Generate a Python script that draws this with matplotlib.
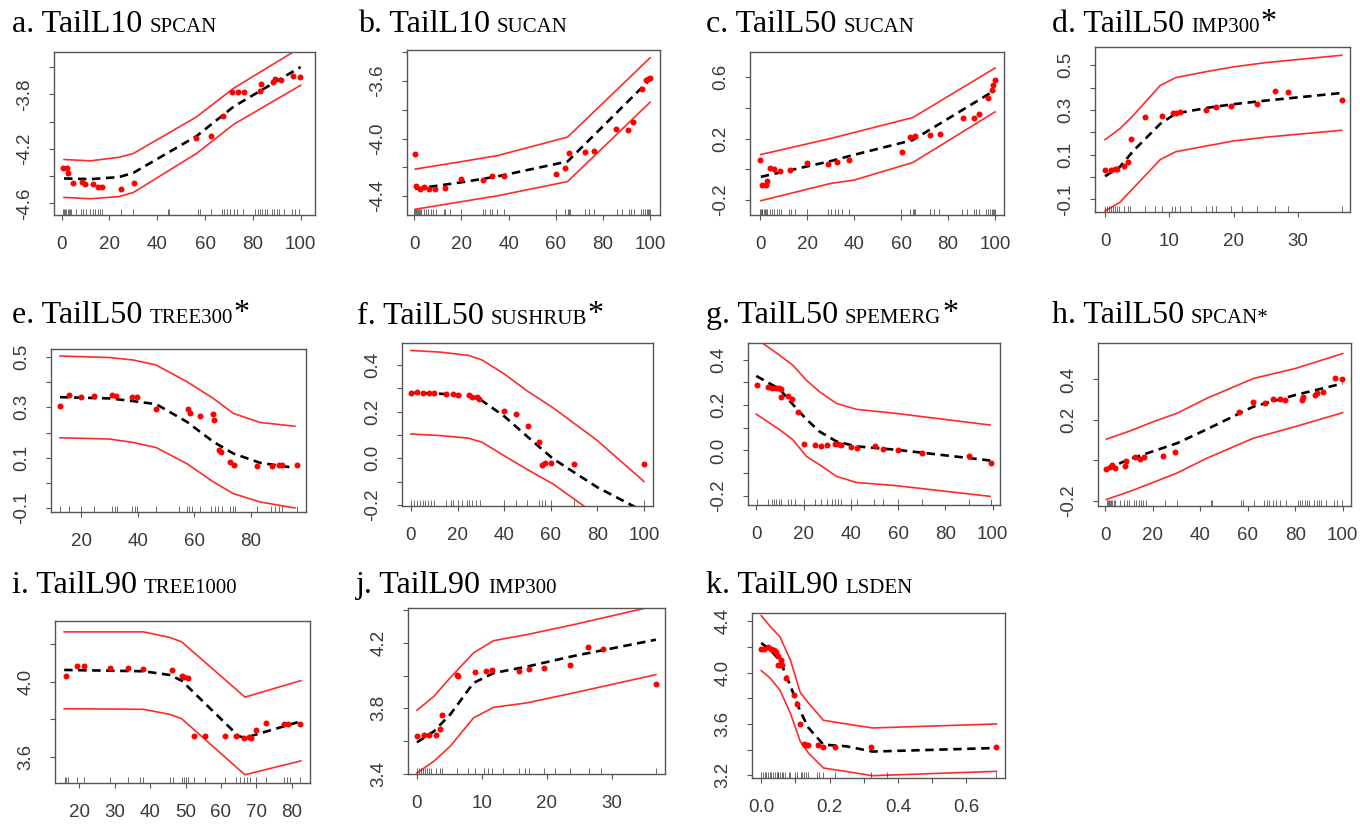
import numpy as np
import matplotlib.pyplot as plt

plt.rcParams['font.family'] = ['Liberation Sans', 'DejaVu Sans']

W, H = 1360, 830

# ---- a. TailL10 SPCAN ----
a_px = [0.7, 2.4, 2.8, 4.6, 8.4, 9.7, 13.2, 15.0, 16.7, 24.8, 30.1, 56.4, 62.4, 67.5, 71.3, 73.8, 76.2, 83.0, 83.6, 88.3, 89.3, 91.6, 96.8, 99.7]
a_py = [-4.344, -4.337, -4.376, -4.451, -4.446, -4.456, -4.461, -4.478, -4.478, -4.498, -4.451, -4.117, -4.107, -3.961, -3.783, -3.783, -3.783, -3.776, -3.724, -3.710, -3.685, -3.693, -3.663, -3.673]
a_kx = [1, 12, 24, 30, 56.4, 72, 100]
a_up = [-4.278, -4.288, -4.262, -4.234, -3.966, -3.755, -3.457]
a_lo = [-4.556, -4.566, -4.55, -4.52, -4.234, -4.02, -3.734]
a_fit = [-4.417, -4.422, -4.407, -4.376, -4.107, -3.89, -3.6]
a_rug = [0.5, 1, 1.5, 2, 2.5, 3, 3.5, 4, 6, 8, 9, 10, 12, 13, 14, 15, 16, 17, 25, 30, 44.5, 45, 57, 58, 62.5,
         67, 68, 69, 70.5, 72, 73.5, 76, 81, 82, 83, 84, 85, 86, 88, 89, 90, 91, 93, 96.5, 97.5, 99.5]

# ---- b. TailL10 SUCAN ----
b_px = [0.4, 0.8, 2.5, 4.2, 6.1, 8.9, 13.0, 20.0, 29.1, 32.9, 37.9, 60.2, 64.0, 65.5, 72.5, 76.4, 85.7, 90.8, 92.9, 96.5, 98.2, 99.3, 100.0]
b_py = [-4.108, -4.328, -4.353, -4.339, -4.351, -4.351, -4.346, -4.283, -4.290, -4.260, -4.260, -4.246, -4.202, -4.101, -4.092, -4.085, -3.934, -3.938, -3.885, -3.658, -3.595, -3.584, -3.579]
b_kx = [0.4, 20, 35, 65, 100]
b_up = [-4.213, -4.161, -4.12, -3.99, -3.437]
b_lo = [-4.493, -4.44, -4.40, -4.30, -3.747]
b_fit = [-4.351, -4.305, -4.265, -4.16, -3.588]
b_rug = [0, 0.3, 0.6, 1, 1.5, 2, 2.5, 3, 4, 5, 6, 7, 8, 9, 12.5, 13, 15, 20, 29, 30, 32, 33, 35, 38, 60, 64, 65,
         65.5, 66, 72.5, 74, 76, 86, 88, 91, 92, 93, 96, 97, 98, 98.5, 99, 99.5, 100]

# ---- c. TailL50 SUCAN ----
c_px = [0.0, 0.6, 2.3, 3.1, 4.0, 6.1, 8.5, 12.8, 19.9, 29.1, 32.9, 38.0, 60.3, 63.8, 66.0, 72.3, 76.5, 86.2, 90.9, 93.2, 96.9, 98.6, 99.3, 100.0]
c_py = [0.059, -0.103, -0.103, -0.077, 0.011, 0.000, -0.010, -0.005, 0.038, 0.034, 0.049, 0.059, 0.114, 0.211, 0.215, 0.222, 0.228, 0.334, 0.334, 0.362, 0.466, 0.518, 0.546, 0.578]
c_kx = [0.3, 30, 40, 65, 100]
c_up = [0.096, 0.2, 0.239, 0.336, 0.658]
c_lo = [-0.204, -0.092, -0.07, 0.044, 0.373]
c_fit = [-0.049, 0.053, 0.094, 0.19, 0.514]
c_rug = b_rug

# ---- d. TailL50 IMP300 ----
d_px = [0.0, 1.0, 1.6, 1.8, 2.9, 3.5, 4.0, 6.2, 8.9, 10.6, 11.0, 11.6, 15.7, 17.2, 19.6, 23.6, 26.4, 28.4, 36.8]
d_py = [0.030, 0.033, 0.034, 0.037, 0.049, 0.067, 0.169, 0.269, 0.275, 0.285, 0.287, 0.290, 0.301, 0.312, 0.316, 0.325, 0.384, 0.381, 0.343]
d_kx = [0, 2.3, 4.4, 8.6, 11, 16, 20, 25, 36.8]
d_up = [0.167, 0.216, 0.276, 0.41, 0.445, 0.473, 0.493, 0.512, 0.545]
d_lo = [-0.152, -0.114, -0.05, 0.078, 0.113, 0.14, 0.161, 0.178, 0.209]
d_fit = [0.003, 0.045, 0.117, 0.238, 0.284, 0.31, 0.326, 0.342, 0.376]
d_rug = [0, 0.3, 0.6, 1, 1.3, 1.6, 1.8, 2.2, 2.9, 3.5, 3.9, 6.2, 7.8, 8.9, 10.4, 10.9, 11.6, 13.3, 15.7, 16.6,
         17.2, 19.6, 21.3, 23.6, 26.5, 28.4, 36.8]

# ---- e. TailL50 TREE300 ----
e_px = [12.6, 15.9, 20.0, 24.7, 31.0, 32.4, 38.1, 39.8, 46.4, 57.6, 58.5, 62.1, 66.5, 67.0, 68.6, 69.3, 72.4, 74.1, 82.0, 87.3, 90.0, 91.0, 96.1]
e_py = [0.307, 0.349, 0.341, 0.344, 0.348, 0.345, 0.341, 0.340, 0.293, 0.292, 0.276, 0.267, 0.272, 0.248, 0.129, 0.123, 0.084, 0.071, 0.065, 0.065, 0.071, 0.071, 0.072]
e_kx = [12.6, 30, 38.5, 46.5, 57.3, 66.7, 73.8, 83.2, 95.5]
e_up = [0.505, 0.499, 0.489, 0.469, 0.403, 0.336, 0.276, 0.24, 0.225]
e_lo = [0.179, 0.174, 0.16, 0.14, 0.076, 0.003, -0.044, -0.077, -0.101]
e_fit = [0.341, 0.336, 0.325, 0.313, 0.243, 0.163, 0.116, 0.079, 0.059]
e_rug = [12.6, 15.9, 20, 24.7, 31, 32, 32.6, 37.9, 39, 39.9, 46.4, 54.6, 57.3, 58, 59, 62, 66, 67.3, 68.5, 69.6,
         72.6, 73.5, 74.4, 82, 87, 88.5, 90, 90.8, 96.1]

# ---- f. TailL50 SUSHRUB ----
f_px = [0.0, 2.6, 5.1, 7.6, 10.1, 15.1, 18.0, 20.4, 25.1, 26.1, 28.5, 29.4, 40.1, 45.1, 50.1, 55.1, 56.3, 57.5, 60.0, 70.0, 100.0]
f_py = [0.279, 0.283, 0.279, 0.279, 0.279, 0.273, 0.273, 0.269, 0.269, 0.261, 0.264, 0.254, 0.201, 0.190, 0.137, 0.069, -0.029, -0.021, -0.021, -0.024, -0.024]
f_kx = [0, 12.6, 24.7, 30.4, 40, 49.6, 61, 80, 100]
f_up = [0.461, 0.454, 0.44, 0.421, 0.361, 0.29, 0.216, 0.076, -0.099]
f_lo = [0.104, 0.097, 0.086, 0.069, 0.011, -0.046, -0.11, -0.245, -0.39]
f_fit = [0.28, 0.276, 0.267, 0.247, 0.18, 0.096, -0.002, -0.124, -0.228]
f_rug = [0, 1.2, 2.5, 3.7, 5, 6.2, 7.5, 8.7, 10, 15, 17, 18, 20, 22, 24, 25, 26, 28, 29.7, 40, 45, 50, 55, 56.3,
         57.5, 60, 70, 100]

# ---- g. TailL50 SPEMERG ----
g_px = [0.3, 4.9, 6.8, 8.5, 9.5, 10.3, 10.3, 13.4, 15.3, 17.7, 20.1, 25.0, 27.5, 29.9, 33.2, 34.6, 36.0, 40.0, 42.4, 50.1, 53.4, 60.0, 70.2, 89.8, 99.2]
g_py = [0.286, 0.278, 0.277, 0.274, 0.277, 0.271, 0.237, 0.240, 0.225, 0.168, 0.029, 0.022, 0.020, 0.022, 0.028, 0.029, 0.025, 0.015, 0.013, 0.018, 0.007, 0.003, -0.012, -0.023, -0.053]
g_kx = [0, 9.9, 15.5, 21.2, 26.8, 33.9, 42.4, 59.3, 98.9]
g_up = [0.492, 0.419, 0.375, 0.309, 0.258, 0.207, 0.181, 0.163, 0.112]
g_lo = [0.16, 0.091, 0.047, -0.026, -0.063, -0.114, -0.141, -0.155, -0.202]
g_fit = [0.328, 0.27, 0.202, 0.137, 0.083, 0.04, 0.018, 0.003, -0.044]
g_rug = [0.3, 4.9, 6.5, 7.5, 8.5, 9.5, 10.6, 13.4, 14.5, 16.2, 20, 25, 27.5, 29.9, 32, 33.5, 34.6, 36, 40, 42.4,
         50, 53.4, 60, 70, 90, 99.2]

# ---- h. TailL50 SPCAN ----
h_px = [0.4, 2.1, 2.8, 4.2, 8.1, 8.8, 12.6, 14.7, 16.4, 24.3, 29.5, 56.1, 62.4, 67.3, 70.8, 73.4, 75.7, 82.7, 83.2, 88.4, 89.1, 91.6, 96.8, 99.6]
h_py = [-0.043, -0.030, -0.021, -0.038, -0.026, -0.005, 0.015, 0.008, 0.016, 0.021, 0.044, 0.238, 0.290, 0.285, 0.303, 0.302, 0.298, 0.298, 0.311, 0.323, 0.334, 0.336, 0.408, 0.400]
h_kx = [0.4, 10.5, 20.3, 30.2, 42.8, 62.4, 80, 100]
h_up = [0.105, 0.146, 0.192, 0.233, 0.307, 0.405, 0.454, 0.528]
h_lo = [-0.193, -0.152, -0.108, -0.062, 0.011, 0.11, 0.167, 0.236]
h_fit = [-0.043, 0.008, 0.046, 0.085, 0.154, 0.266, 0.323, 0.38]
h_rug = a_rug

# ---- i. TailL90 TREE1000 ----
i_px = [16.1, 19.2, 21.3, 28.6, 33.6, 37.9, 46.1, 48.9, 49.5, 50.8, 52.4, 55.5, 61.3, 64.4, 66.6, 67.9, 68.4, 70.0, 72.7, 77.8, 79.0, 82.3]
i_py = [4.028, 4.085, 4.085, 4.072, 4.072, 4.067, 4.063, 4.032, 4.026, 4.018, 3.709, 3.709, 3.709, 3.711, 3.697, 3.702, 3.697, 3.741, 3.780, 3.776, 3.776, 3.776]
i_kx = [15.7, 38.1, 45.6, 48.9, 65.0, 66.8, 82.6]
i_up = [4.265, 4.265, 4.235, 4.212, 3.947, 3.917, 4.005]
i_lo = [3.855, 3.852, 3.825, 3.802, 3.533, 3.503, 3.577]
i_fit = [4.062, 4.055, 4.035, 4.005, 3.709, 3.700, 3.788]
i_rug = [15.8, 16.3, 16.9, 19.2, 21.3, 28.7, 33.6, 37.1, 38.1, 45.6, 46.6, 48.9, 49.5, 50, 50.8, 52.4, 55.5,
         61.3, 64.4, 65.5, 66.6, 67.3, 68.2, 70, 72.7, 77.8, 78.8, 79.5, 82.3]

# ---- j. TailL90 IMP300 ----
j_px = [0.0, 1.1, 1.8, 2.9, 3.6, 3.9, 6.2, 6.3, 9.0, 10.6, 11.6, 15.7, 17.3, 19.6, 23.5, 26.3, 28.6, 36.8]
j_py = [3.629, 3.635, 3.635, 3.635, 3.676, 3.757, 4.006, 4.000, 4.020, 4.027, 4.033, 4.031, 4.041, 4.047, 4.063, 4.173, 4.163, 3.951]
j_kx = [0, 2.6, 5.1, 8.7, 11.8, 16.9, 24.1, 36.8]
j_up = [3.788, 3.873, 3.986, 4.139, 4.214, 4.251, 4.312, 4.428]
j_lo = [3.404, 3.476, 3.567, 3.741, 3.806, 3.833, 3.894, 4.006]
j_fit = [3.592, 3.659, 3.761, 3.955, 4.016, 4.055, 4.12, 4.22]
j_rug = d_rug

# ---- k. TailL90 LSDEN ----
k_px = [0.0, 0.007, 0.019, 0.028, 0.036, 0.044, 0.048, 0.049, 0.055, 0.058, 0.060, 0.073, 0.097, 0.104, 0.114, 0.124, 0.131, 0.138, 0.167, 0.182, 0.216, 0.321, 0.688]
k_py = [4.184, 4.184, 4.197, 4.184, 4.174, 4.158, 4.127, 4.062, 4.062, 4.101, 4.062, 3.958, 3.823, 3.758, 3.603, 3.444, 3.439, 3.439, 3.434, 3.421, 3.421, 3.421, 3.418]
k_kx = [0, 0.026, 0.055, 0.085, 0.114, 0.138, 0.182, 0.25, 0.325, 0.688]
k_up = [4.444, 4.361, 4.278, 4.101, 3.847, 3.764, 3.629, 3.60, 3.569, 3.60]
k_lo = [4.016, 3.958, 3.862, 3.686, 3.465, 3.374, 3.257, 3.229, 3.197, 3.231]
k_fit = [4.231, 4.179, 4.093, 3.898, 3.70, 3.571, 3.439, 3.426, 3.385, 3.413]
k_rug = [0, 0.005, 0.01, 0.015, 0.02, 0.025, 0.03, 0.035, 0.04, 0.045, 0.048, 0.05, 0.055, 0.06, 0.065, 0.07,
         0.08, 0.085, 0.1, 0.105, 0.115, 0.12, 0.125, 0.13, 0.138, 0.163, 0.17, 0.182, 0.216, 0.321, 0.367, 0.688]

# titles: (letter, response, predictor subscript, big asterisk)
TITLES = {
    'a': ('TailL10', 'SPCAN', ''), 'b': ('TailL10', 'SUCAN', ''), 'c': ('TailL50', 'SUCAN', ''),
    'd': ('TailL50', 'IMP300', '*'), 'e': ('TailL50', 'TREE300', '*'), 'f': ('TailL50', 'SUSHRUB', '*'),
    'g': ('TailL50', 'SPEMERG', '*'), 'h': ('TailL50', 'SPCAN*', ''), 'i': ('TailL90', 'TREE1000', ''),
    'j': ('TailL90', 'IMP300', ''), 'k': ('TailL90', 'LSDEN', ''),
}

X100 = ['0', '20', '40', '60', '80', '100']
XTICKS = {
    'a': X100, 'b': X100, 'c': X100, 'f': X100, 'g': X100, 'h': X100,
    'd': ['0', '10', '20', '30'], 'j': ['0', '10', '20', '30'],
    'e': ['20', '40', '60', '80'], 'i': ['20', '30', '40', '50', '60', '70', '80'],
    'k': ['0.0', '', '0.2', '', '0.4', '', '0.6'],
}
k_xtick_vals = [0.0, 0.1, 0.2, 0.3, 0.4, 0.5, 0.6]

# y ticks and which of them carry a label
YTICKS = {
    'a': ([-4.6, -4.4, -4.2, -4.0, -3.8, -3.6], [-4.6, -4.2, -3.8]),
    'b': ([-4.4, -4.2, -4.0, -3.8, -3.6, -3.4], [-4.4, -4.0, -3.6]),
    'c': ([-0.2, 0.0, 0.2, 0.4, 0.6], [-0.2, 0.2, 0.6]),
    'd': ([-0.1, 0.0, 0.1, 0.2, 0.3, 0.4, 0.5], [-0.1, 0.1, 0.3, 0.5]),
    'e': ([-0.1, 0.0, 0.1, 0.2, 0.3, 0.4, 0.5], [-0.1, 0.1, 0.3, 0.5]),
    'f': ([-0.2, -0.1, 0.0, 0.1, 0.2, 0.3, 0.4], [-0.2, 0.0, 0.2, 0.4]),
    'g': ([-0.2, -0.1, 0.0, 0.1, 0.2, 0.3, 0.4], [-0.2, 0.0, 0.2, 0.4]),
    'h': ([-0.2, 0.0, 0.2, 0.4], [-0.2, 0.2, 0.4]),
    'i': ([3.6, 3.8, 4.0, 4.2], [3.6, 4.0]),
    'j': ([3.4, 3.6, 3.8, 4.0, 4.2, 4.4], [3.4, 3.8, 4.2]),
    'k': ([3.2, 3.4, 3.6, 3.8, 4.0, 4.2, 4.4], [3.2, 3.6, 4.0, 4.4]),
}

# layout in pixels: axes box (left, top, right, bottom), limits, title anchor (x, baseline)
LAYOUT = {
    'a': ((54, 52, 315, 215), (-3.2, 106), (-4.685, -3.49), (12, 32)),
    'b': ((407, 50, 660, 215), (-3.1, 104.2), (-4.533, -3.383), (358, 32)),
    'c': ((750, 52, 1004, 215), (-4.3, 103.8), (-0.297, 0.762), (706, 32)),
    'd': ((1095, 47, 1350, 212), (-1.56, 38.1), (-0.157, 0.582), (1052, 32)),
    'e': ((51, 349, 306, 512), (9.4, 99.4), (-0.117, 0.533), (12, 323)),
    'f': ((402, 343, 653, 506), (-3.85, 103.9), (-0.204, 0.493), (357, 324)),
    'g': ((748, 343, 1000, 505), (-3.5, 103.1), (-0.24, 0.473), (706, 323)),
    'h': ((1098, 343, 1351, 506), (-3.1, 103.5), (-0.225, 0.58), (1052, 323)),
    'i': ((55, 621, 310, 783), (13.1, 85.2), (3.459, 4.323), (12, 593)),
    'j': ((408, 608, 665, 774), (-1.38, 38.2), (3.398, 4.414), (356, 593)),
    'k': ((752, 613, 1005, 778), (-0.027, 0.713), (3.179, 4.465), (706, 593)),
}

SERIES = {
    'a': (a_px, a_py, a_kx, a_up, a_lo, a_fit, a_rug),
    'b': (b_px, b_py, b_kx, b_up, b_lo, b_fit, b_rug),
    'c': (c_px, c_py, c_kx, c_up, c_lo, c_fit, c_rug),
    'd': (d_px, d_py, d_kx, d_up, d_lo, d_fit, d_rug),
    'e': (e_px, e_py, e_kx, e_up, e_lo, e_fit, e_rug),
    'f': (f_px, f_py, f_kx, f_up, f_lo, f_fit, f_rug),
    'g': (g_px, g_py, g_kx, g_up, g_lo, g_fit, g_rug),
    'h': (h_px, h_py, h_kx, h_up, h_lo, h_fit, h_rug),
    'i': (i_px, i_py, i_kx, i_up, i_lo, i_fit, i_rug),
    'j': (j_px, j_py, j_kx, j_up, j_lo, j_fit, j_rug),
    'k': (k_px, k_py, k_kx, k_up, k_lo, k_fit, k_rug),
}

RED = '#ff2b2b'
AXC = '#555555'
TXC = '#3a3a3a'
SERIF = ['Liberation Serif', 'DejaVu Serif']

fig = plt.figure(figsize=(W / 100, H / 100), dpi=100)

for key, (px, py, kx, up, lo, fit, rug) in SERIES.items():
    (l, t, r, b), xlim, ylim, (tx, tb) = LAYOUT[key]
    ax = fig.add_axes([l / W, 1 - b / H, (r - l) / W, (b - t) / H])

    ax.plot(kx, up, color=RED, lw=1.2)
    ax.plot(kx, lo, color=RED, lw=1.2)
    ax.plot(kx, fit, color='black', lw=1.9, ls=(0, (3.2, 2.1)))
    ax.plot(px, py, 'o', color='#ff0000', ms=4.3, mec='none', zorder=4)
    ax.vlines(rug, 0, 0.035, transform=ax.get_xaxis_transform(), color='#333333', lw=0.5)

    ax.set_xlim(*xlim)
    ax.set_ylim(*ylim)

    xlabels = XTICKS[key]
    if key == 'k':
        ax.set_xticks(k_xtick_vals)
    else:
        ax.set_xticks([float(s) for s in xlabels])
    ax.set_xticklabels(xlabels)

    yt, ylab = YTICKS[key]
    ax.set_yticks(yt)
    ax.set_yticklabels([f'{v:.1f}' if v in ylab else '' for v in yt],
                       rotation=90, va='center')

    ax.tick_params(length=3.8, width=0.8, color=AXC, labelcolor=TXC,
                   labelsize=13.5, pad=11)
    for sp in ax.spines.values():
        sp.set_color(AXC)
        sp.set_linewidth(1.0)

    resp, sub, star = TITLES[key]
    t1 = fig.text(tx / W, 1 - tb / H, f'{key}. {resp}', fontsize=23,
                  family=SERIF, va='baseline', ha='left', color='black')
    t2 = ax.annotate(sub, xy=(1, 0), xycoords=t1, xytext=(5, 1.7),
                     textcoords='offset points', fontsize=15, family=SERIF,
                     va='bottom', ha='left', annotation_clip=False)
    if star:
        ax.annotate(star, xy=(1, 0), xycoords=t2, xytext=(0.5, 0),
                    textcoords='offset points', fontsize=23, family=SERIF,
                    va='bottom', ha='left', annotation_clip=False)

fig.savefig('out.png', dpi=100)
